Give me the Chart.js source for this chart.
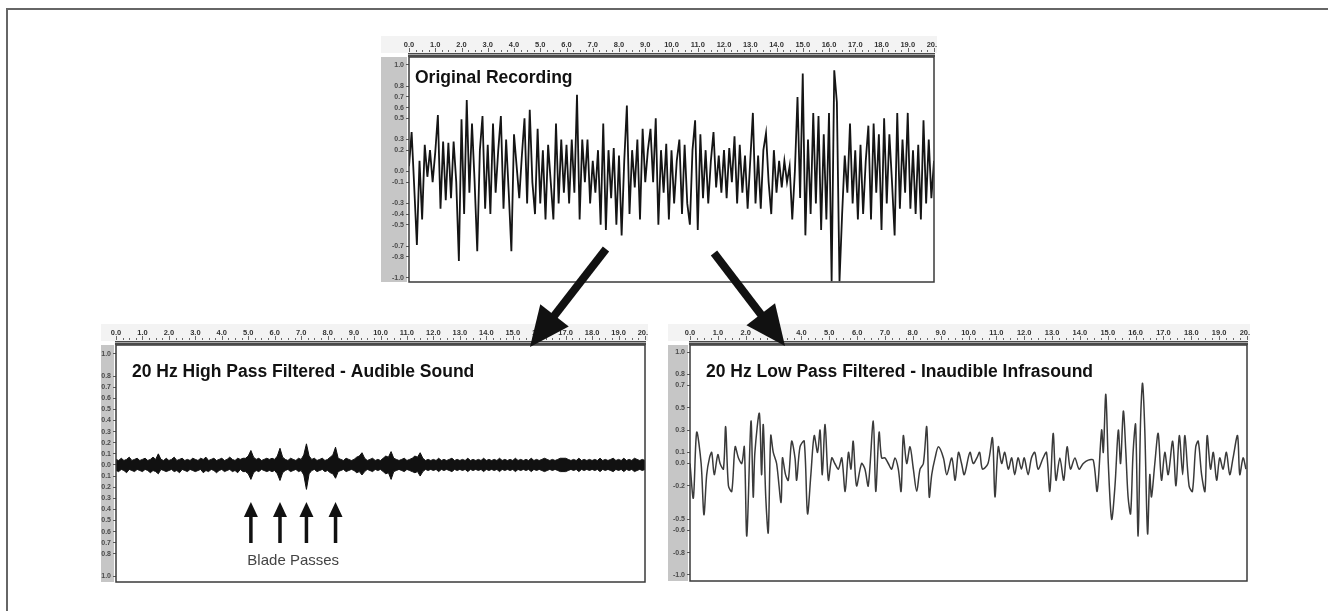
<!DOCTYPE html>
<html>
<head>
<meta charset="utf-8">
<title>Original recording, high pass and low pass</title>
<script src="https://cdn.jsdelivr.net/npm/chart.js@4.4.1/dist/chart.umd.min.js"></script>
<style>
  html, body { margin: 0; padding: 0; background: #fff; }
  #page { position: relative; width: 1328px; height: 611px; overflow: hidden; background: #fff; }
  #page canvas { position: absolute; }
  #outline { position: absolute; left: 6px; top: 8px; width: 1340px; height: 640px;
             border-left: 2px solid #666; border-top: 2px solid #666; }
</style>
</head>
<body>
<div id="page">
  <div id="outline"></div>
  <canvas id="recChart" width="556" height="248" style="left:381px;top:36px"></canvas>
  <canvas id="hpChart" width="547" height="260" style="left:101px;top:324px"></canvas>
  <canvas id="lpChart" width="582" height="259" style="left:668px;top:324px"></canvas>
  <canvas id="arrows" width="1328" height="611" style="left:0;top:0"></canvas>
</div>
<script>
/* ------------------------------------------------------------
   DATA (seconds on x, amplitude on y)
------------------------------------------------------------ */
const rulerLabels = [0, 1, 2, 3, 4, 5, 6, 7, 8, 9, 10, 11, 12, 13, 14, 15, 16, 17, 18, 19, 20];

// original recording, one reading every 0.1 s
const recStep = 0.1;
const recValues = [
  0.05, 0.37, -0.15, -0.69, 0.1, -0.45, 0.25, -0.05, 0.2, -0.1,
  0.18, 0.53, -0.35, 0.28, -0.27, 0.27, -0.25, 0.28, -0.1, -0.84,
  0.49, -0.4, 0.67, -0.2, 0.45, -0.1, -0.75, 0.2, 0.52, -0.35,
  0.25, -0.4, 0.45, -0.2, 0.2, 0.52, -0.35, 0.3, -0.2, -0.75,
  0.35, 0.05, -0.25, 0.15, 0.5, -0.3, 0.58, -0.1, -0.4, 0.4,
  -0.3, 0.2, -0.45, 0.25, -0.1, -0.45, 0.45, -0.3, 0.3, -0.2,
  0.25, -0.3, 0.3, -0.2, 0.72, -0.45, 0.3, -0.1, 0.3, -0.3,
  0.1, -0.2, 0.2, -0.5, 0.45, -0.55, 0.2, -0.25, 0.22, -0.5,
  0.15, -0.6, 0.1, 0.62, -0.4, 0.2, -0.15, 0.3, -0.45, 0.4,
  -0.1, 0.2, 0.4, -0.1, 0.5, -0.5, 0.2, -0.2, 0.26, -0.45,
  0.2, -0.3, 0.1, 0.3, -0.4, 0.25, -0.3, -0.5, 0.2, 0.48,
  -0.55, 0.35, -0.25, 0.2, -0.3, 0.1, 0.37, -0.15, 0.15, -0.2,
  0.2, -0.25, 0.22, -0.1, 0.33, -0.3, 0.25, -0.2, 0.15, -0.35,
  0.1, 0.55, -0.3, 0.15, -0.35, 0.2, 0.36, -0.1, -0.4, 0.2,
  -0.2, 0.1, -0.15, 0.1, -0.1, 0.05, -0.45, 0.0, 0.7, -0.25,
  0.92, -0.6, 0.3, -0.4, 0.55, -0.3, 0.52, -0.55, 0.35, -0.45,
  0.55, -1.03, 0.95, 0.65, -1.03, -0.4, 0.15, -0.2, 0.45, -0.3,
  0.2, -0.45, 0.25, -0.4, 0.1, 0.43, -0.45, 0.45, -0.2, 0.35,
  -0.55, 0.5, -0.3, 0.35, -0.1, -0.6, 0.55, -0.35, 0.3, -0.2,
  0.55, -0.35, 0.2, -0.4, 0.25, -0.45, 0.48, -0.3, 0.3, -0.25,
  0.1
];
const recTicks = [1.0, 0.8, 0.7, 0.6, 0.5, 0.3, 0.2, 0.0, -0.1, -0.3, -0.4, -0.5, -0.7, -0.8, -1.0];

// 20 Hz high pass: upper and lower edge of the band, every 0.1 s
const hpStep = 0.1;
const hpUpper = [
  0.05, 0.04, 0.06, 0.04, 0.05, 0.07, 0.04, 0.05, 0.06, 0.04,
  0.05, 0.06, 0.04, 0.05, 0.07, 0.05, 0.10, 0.05, 0.04, 0.06,
  0.04, 0.05, 0.07, 0.04, 0.05, 0.06, 0.04, 0.05, 0.04, 0.06,
  0.05, 0.04, 0.06, 0.05, 0.07, 0.04, 0.05, 0.06, 0.04, 0.05,
  0.06, 0.04, 0.05, 0.07, 0.05, 0.04, 0.06, 0.05, 0.06, 0.06,
  0.08, 0.13, 0.07, 0.05, 0.06, 0.04, 0.05, 0.06, 0.05, 0.06,
  0.05, 0.08, 0.15, 0.07, 0.05, 0.04, 0.06, 0.05, 0.04, 0.06,
  0.05, 0.09, 0.19, 0.08, 0.05, 0.06, 0.04, 0.05, 0.06, 0.04,
  0.05, 0.07, 0.09, 0.16, 0.06, 0.05, 0.04, 0.06, 0.05, 0.04,
  0.05, 0.07, 0.08, 0.11, 0.06, 0.04, 0.05, 0.06, 0.04, 0.05,
  0.04, 0.06, 0.08, 0.07, 0.12, 0.06, 0.05, 0.04, 0.05, 0.06,
  0.04, 0.05, 0.06, 0.08, 0.07, 0.11, 0.06, 0.04, 0.05, 0.04,
  0.05, 0.04, 0.06, 0.04, 0.05, 0.04, 0.05, 0.06, 0.04, 0.05,
  0.04, 0.05, 0.04, 0.06, 0.04, 0.05, 0.04, 0.05, 0.04, 0.06,
  0.04, 0.05, 0.04, 0.05, 0.04, 0.06, 0.04, 0.05, 0.04, 0.05,
  0.04, 0.06, 0.04, 0.05, 0.04, 0.05, 0.04, 0.06, 0.04, 0.05,
  0.04, 0.05, 0.06, 0.05, 0.04, 0.05, 0.04, 0.05, 0.06, 0.06,
  0.06, 0.05, 0.04, 0.05, 0.04, 0.06, 0.04, 0.05, 0.04, 0.05,
  0.04, 0.05, 0.04, 0.06, 0.04, 0.05, 0.04, 0.05, 0.06, 0.04,
  0.05, 0.04, 0.06, 0.04, 0.05, 0.04, 0.06, 0.05, 0.04, 0.05,
  0.04
];
const hpLower = [
  -0.05, -0.06, -0.04, -0.05, -0.07, -0.04, -0.05, -0.06, -0.04, -0.05,
  -0.06, -0.04, -0.05, -0.07, -0.05, -0.06, -0.08, -0.04, -0.05, -0.06,
  -0.05, -0.04, -0.06, -0.05, -0.07, -0.04, -0.05, -0.06, -0.04, -0.05,
  -0.06, -0.05, -0.04, -0.07, -0.05, -0.06, -0.04, -0.05, -0.07, -0.05,
  -0.04, -0.06, -0.05, -0.04, -0.06, -0.05, -0.07, -0.04, -0.06, -0.06,
  -0.08, -0.13, -0.07, -0.05, -0.06, -0.04, -0.05, -0.06, -0.05, -0.06,
  -0.05, -0.08, -0.14, -0.07, -0.05, -0.04, -0.06, -0.05, -0.04, -0.06,
  -0.05, -0.09, -0.22, -0.08, -0.05, -0.04, -0.06, -0.05, -0.04, -0.06,
  -0.05, -0.07, -0.08, -0.12, -0.06, -0.05, -0.04, -0.06, -0.05, -0.04,
  -0.05, -0.07, -0.06, -0.09, -0.06, -0.04, -0.05, -0.06, -0.04, -0.05,
  -0.04, -0.06, -0.08, -0.07, -0.13, -0.06, -0.05, -0.04, -0.05, -0.06,
  -0.04, -0.05, -0.06, -0.07, -0.06, -0.10, -0.06, -0.04, -0.05, -0.04,
  -0.05, -0.04, -0.06, -0.04, -0.05, -0.04, -0.05, -0.06, -0.04, -0.05,
  -0.04, -0.05, -0.04, -0.06, -0.04, -0.05, -0.04, -0.05, -0.04, -0.06,
  -0.04, -0.05, -0.04, -0.05, -0.04, -0.06, -0.04, -0.05, -0.04, -0.05,
  -0.04, -0.06, -0.04, -0.05, -0.04, -0.05, -0.04, -0.06, -0.04, -0.05,
  -0.04, -0.05, -0.06, -0.05, -0.04, -0.05, -0.04, -0.05, -0.06, -0.06,
  -0.06, -0.05, -0.04, -0.05, -0.04, -0.06, -0.04, -0.05, -0.04, -0.05,
  -0.04, -0.05, -0.04, -0.06, -0.04, -0.05, -0.04, -0.05, -0.06, -0.04,
  -0.05, -0.04, -0.06, -0.04, -0.05, -0.04, -0.06, -0.05, -0.04, -0.05,
  -0.04
];
const hpTicks = [1.0, 0.8, 0.7, 0.6, 0.5, 0.4, 0.3, 0.2, 0.1, 0.0,
  -0.1, -0.2, -0.3, -0.4, -0.5, -0.6, -0.7, -0.8, -1.0];
const bladeTimes = [5.1, 6.2, 7.2, 8.3];

// 20 Hz low pass: turning points of the trace
const lpTimes = [
  0.0, 0.12, 0.24, 0.4, 0.5, 0.6, 0.7, 0.78, 0.87, 1.0,
  1.08, 1.2, 1.28, 1.38, 1.5, 1.62, 1.74, 1.86, 1.95, 2.04,
  2.19, 2.27, 2.33, 2.49, 2.57, 2.63, 2.72, 2.81, 2.9, 2.99,
  3.11, 3.27, 3.32, 3.43, 3.53, 3.65, 3.77, 3.83, 3.95, 4.1,
  4.22, 4.34, 4.46, 4.58, 4.67, 4.75, 4.85, 4.97, 5.09, 5.2,
  5.33, 5.45, 5.57, 5.69, 5.78, 5.86, 5.98, 6.16, 6.28, 6.4,
  6.58, 6.67, 6.79, 6.88, 7.0, 7.12, 7.24, 7.36, 7.48, 7.58,
  7.66, 7.78, 7.9, 8.02, 8.14, 8.26, 8.38, 8.5, 8.59, 8.68,
  8.8, 8.92, 9.1, 9.22, 9.4, 9.52, 9.64, 9.75, 9.85, 10.05,
  10.17, 10.3, 10.4, 10.5, 10.7, 10.86, 10.95, 11.07, 11.19, 11.3,
  11.43, 11.55, 11.66, 11.78, 11.9, 12.0, 12.14, 12.26, 12.38, 12.5,
  12.68, 12.8, 12.92, 13.04, 13.14, 13.28, 13.42, 13.54, 13.66, 13.82,
  13.97, 14.12, 14.3, 14.48, 14.62, 14.78, 14.84, 14.93, 15.02, 15.14,
  15.26, 15.38, 15.46, 15.56, 15.65, 15.73, 15.82, 15.91, 16.0, 16.09,
  16.18, 16.25, 16.33, 16.43, 16.51, 16.57, 16.69, 16.81, 16.93, 17.05,
  17.17, 17.33, 17.45, 17.57, 17.69, 17.77, 17.92, 18.04, 18.16, 18.25,
  18.37, 18.49, 18.57, 18.69, 18.79, 18.91, 19.02, 19.14, 19.26, 19.38,
  19.5, 19.66, 19.74, 19.86, 19.96
];
const lpValues = [
  0.0, -0.31, 0.28, 0.0, -0.46, -0.1, 0.05, 0.1, -0.1, 0.08,
  0.0, -0.05, 0.33, -0.2, -0.25, 0.15, 0.05, 0.0, 0.15, -0.65,
  0.38, -0.3, 0.1, 0.45, -0.1, 0.35, -0.3, -0.62, 0.25, 0.1,
  0.0, -0.35, 0.05, -0.1, -0.15, 0.2, 0.05, -0.15, 0.15, 0.2,
  -0.45, -0.1, 0.25, 0.1, 0.3, -0.1, 0.35, -0.15, 0.05, 0.0,
  -0.05, 0.05, -0.25, 0.1, -0.05, 0.2, -0.2, 0.0, -0.05, -0.2,
  0.38, -0.25, 0.28, 0.05, 0.05, 0.0, -0.05, 0.05, -0.05, -0.25,
  0.25, 0.0, 0.15, -0.05, -0.25, -0.05, 0.0, 0.33, -0.3, -0.1,
  0.05, 0.15, 0.05, -0.1, 0.05, -0.15, 0.1, 0.0, -0.1, 0.1,
  0.0, 0.05, 0.1, -0.05, 0.0, 0.23, -0.3, 0.15, 0.0, 0.1,
  -0.05, 0.05, -0.1, 0.05, -0.05, 0.05, -0.1, 0.05, 0.1, -0.05,
  0.05, 0.1, -0.25, 0.27, -0.15, 0.05, -0.15, 0.15, -0.05, 0.05,
  -0.05, 0.0, 0.03, 0.03, -0.25, 0.3, 0.1, 0.62, 0.0, -0.5,
  -0.2, 0.3, 0.0, 0.47, 0.1, -0.3, -0.45, 0.1, 0.35, -0.65,
  0.4, 0.72, 0.3, -0.63, -0.1, -0.3, 0.0, 0.27, -0.15, 0.1,
  -0.1, 0.2, -0.2, 0.25, -0.1, 0.25, -0.2, -0.25, 0.15, 0.2,
  -0.1, -0.25, 0.25, -0.05, 0.1, -0.15, 0.05, -0.05, 0.1, -0.1,
  0.05, 0.25, -0.1, 0.05, -0.05
];
const lpTicks = [1.0, 0.8, 0.7, 0.5, 0.3, 0.1, 0.0, -0.2, -0.5, -0.6, -0.8, -1.0];

/* ------------------------------------------------------------
   PANEL DECORATION (ruler, grey value strip, frame, titles)
------------------------------------------------------------ */
const panelDecor = {
  id: "panelDecor",
  beforeDraw(chart) {
    const { ctx, chartArea: a, width, height } = chart;
    ctx.save();
    ctx.fillStyle = "#ffffff";
    ctx.fillRect(0, 0, width, height);
    ctx.fillStyle = "#f3f3f3";
    ctx.fillRect(0, 0, width, a.top - 4);
    ctx.fillStyle = "#c6c6c6";
    ctx.fillRect(0, a.top, a.left - 2, a.bottom - a.top);
    ctx.restore();
  },
  afterDraw(chart, args, opts) {
    const { ctx, chartArea: a } = chart;
    const xs = chart.scales.x;
    ctx.save();

    // small ruler ticks
    ctx.strokeStyle = "#666";
    ctx.lineWidth = 1;
    for (let t = 0; t <= 20; t += 0.25) {
      const px = Math.round(xs.getPixelForValue(t)) + 0.5;
      const major = t % 1 === 0;
      ctx.beginPath();
      ctx.moveTo(px, a.top - 5);
      ctx.lineTo(px, a.top - (major ? 9 : 7));
      ctx.stroke();
    }

    // frame with the heavy double top edge
    ctx.strokeStyle = "#3a3a3a";
    ctx.lineWidth = 1.5;
    ctx.strokeRect(a.left, a.top, a.right - a.left, a.bottom - a.top);
    ctx.fillStyle = "#4a4a4a";
    ctx.fillRect(a.left - 1, a.top - 4, a.right - a.left + 2, 4);
    ctx.fillStyle = "#a8a8a8";
    ctx.fillRect(a.left - 1, a.top - 3, a.right - a.left + 2, 1);

    // title
    ctx.fillStyle = "#111";
    ctx.font = 'bold 17.5px "Liberation Sans", Arial, sans-serif';
    ctx.textAlign = "left";
    ctx.textBaseline = "alphabetic";
    ctx.fillText(opts.title, a.left + opts.dx, a.top + opts.dy);

    // blade pass markers
    if (opts.marks) {
      const mx = opts.marks.map(t => xs.getPixelForValue(t));
      ctx.fillStyle = "#111";
      mx.forEach(px => {
        ctx.fillRect(px - 1.75, a.top + 168, 3.5, 30);
        ctx.beginPath();
        ctx.moveTo(px, a.top + 157);
        ctx.lineTo(px - 7, a.top + 172);
        ctx.lineTo(px + 7, a.top + 172);
        ctx.closePath();
        ctx.fill();
      });
      ctx.fillStyle = "#444";
      ctx.font = '15px "Liberation Sans", Arial, sans-serif';
      ctx.textAlign = "center";
      ctx.fillText(opts.markLabel, (mx[0] + mx[mx.length - 1]) / 2, a.top + 220);
    }
    ctx.restore();
  }
};

/* ------------------------------------------------------------
   CHART FACTORY
------------------------------------------------------------ */
function makePanel(id, datasets, yTicks, yMin, yMax, yWidth, decor) {
  return new Chart(document.getElementById(id), {
    type: "line",
    data: { datasets },
    options: {
      responsive: false,
      animation: false,
      devicePixelRatio: 1,
      layout: { autoPadding: false, padding: { left: 0, top: 0, right: 3, bottom: 2 } },
      elements: { point: { radius: 0 }, line: { borderCapStyle: "butt" } },
      plugins: { legend: { display: false }, tooltip: { enabled: false }, panelDecor: decor },
      scales: {
        x: {
          type: "linear",
          position: "top",
          min: 0,
          max: 20,
          afterFit: s => { s.height = 21; s.paddingLeft = 0; s.paddingRight = 0; },
          afterBuildTicks: s => { s.ticks = rulerLabels.map(v => ({ value: v })); },
          ticks: {
            autoSkip: false, maxRotation: 0, padding: 8, color: "#333",
            font: { family: '"Liberation Sans", Arial', size: 7.5, weight: "bold" },
            callback: v => v.toFixed(1)
          },
          grid: { display: false, drawTicks: false },
          border: { display: false }
        },
        y: {
          type: "linear",
          min: yMin,
          max: yMax,
          afterFit: s => { s.width = yWidth; s.paddingTop = 0; s.paddingBottom = 0; },
          afterBuildTicks: s => { s.ticks = yTicks.map(v => ({ value: v })); },
          ticks: {
            autoSkip: false, padding: 2, color: "#4a4a4a",
            font: { family: '"Liberation Sans", Arial', size: 7, weight: "bold" },
            callback: v => v.toFixed(1)
          },
          grid: { drawOnChartArea: false, tickLength: 3, color: "#5a5a5a" },
          border: { display: false }
        }
      }
    },
    plugins: [panelDecor]
  });
}

/* ------------------------------------------------------------
   BUILD THE THREE PANELS
------------------------------------------------------------ */
makePanel("recChart", [{
  data: recValues.map((v, i) => ({ x: i * recStep, y: v })),
  borderColor: "#151515",
  borderWidth: 1.8,
  tension: 0
}], recTicks, -1.038, 1.075, 28, { title: "Original Recording", dx: 6, dy: 26 });

makePanel("hpChart", [
  {
    data: hpUpper.map((v, i) => ({ x: i * hpStep, y: v })),
    borderColor: "#111",
    backgroundColor: "#111",
    borderWidth: 1,
    fill: "+1"
  },
  {
    data: hpLower.map((v, i) => ({ x: i * hpStep, y: v })),
    borderColor: "#111",
    borderWidth: 1,
    fill: false
  }
], hpTicks, -1.054, 1.08, 15, {
  title: "20 Hz High Pass Filtered - Audible Sound", dx: 16, dy: 32,
  marks: bladeTimes, markLabel: "Blade Passes"
});

makePanel("lpChart", [{
  data: lpValues.map((v, i) => ({ x: lpTimes[i], y: v })),
  borderColor: "#3a3a3a",
  borderWidth: 1.5,
  tension: 0.3
}], lpTicks, -1.054, 1.063, 22, { title: "20 Hz Low Pass Filtered - Inaudible Infrasound", dx: 16, dy: 32 });

/* ------------------------------------------------------------
   ARROWS FROM THE RECORDING TO THE FILTERED PANELS
------------------------------------------------------------ */
function drawBigArrow(ctx, x1, y1, x2, y2) {
  const ang = Math.atan2(y2 - y1, x2 - x1);
  const headLen = 40, headW = 36;
  const bx = x2 - Math.cos(ang) * headLen;
  const by = y2 - Math.sin(ang) * headLen;
  const nx = -Math.sin(ang), ny = Math.cos(ang);
  ctx.strokeStyle = "#111";
  ctx.lineWidth = 8;
  ctx.beginPath();
  ctx.moveTo(x1, y1);
  ctx.lineTo(bx + Math.cos(ang) * 2, by + Math.sin(ang) * 2);
  ctx.stroke();
  ctx.fillStyle = "#111";
  ctx.beginPath();
  ctx.moveTo(x2, y2);
  ctx.lineTo(bx + nx * headW / 2, by + ny * headW / 2);
  ctx.lineTo(bx - nx * headW / 2, by - ny * headW / 2);
  ctx.closePath();
  ctx.fill();
}

const arrowCtx = document.getElementById("arrows").getContext("2d");
drawBigArrow(arrowCtx, 606, 249, 530, 347);
drawBigArrow(arrowCtx, 714, 253, 785, 346);
</script>
</body>
</html>
